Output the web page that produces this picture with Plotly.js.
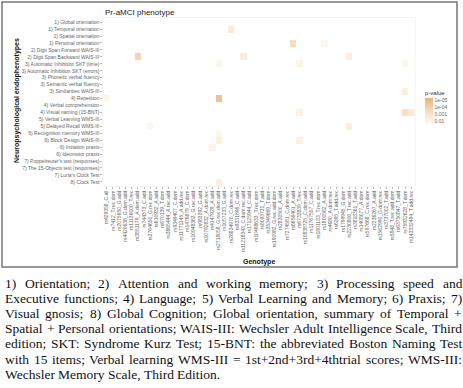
<!DOCTYPE html>
<html>
<head>
<meta charset="utf-8">
<script src="https://cdn.plot.ly/plotly-3.0.1.min.js"></script>
<style>
  body { margin: 0; background: #fff; }
  #plot { width: 463px; height: 388px; }
</style>
</head>
<body>
<div id="plot"></div>
<script>
/* Neuropsychological endophenotypes (rows, top to bottom) */
var phenotypes = [
  "1) Global orientation", "1) Temporal orientation", "1) Spatial orientation",
  "1) Personal orientation", "2) Digit Span Forward WAIS-III", "2) Digit Span Backward WAIS-III",
  "3) Automatic Inhibition SKT (time)", "3) Automatic Inhibition SKT (errors)",
  "3) Phonetic verbal fluency", "3) Semantic verbal fluency", "3) Similarities WAIS-III",
  "4) Repetition", "4) Verbal comprehension", "4) Visual naming (15-BNT)",
  "5) Verbal Learning WMS-III", "5) Delayed Recall WMS-III", "5) Recognition memory WMS-III",
  "6) Block Design WAIS-III", "6) Imitation praxis", "6) Ideomotor praxis",
  "7) Poppelreuter's test (responses)", "7) The 15-Objects test (responses)",
  "7) Luria's Clock Test", "8) Clock Test"
];

/* Genotypes (columns) */
var genotypes = [
  "rs429358_C.all", "rs7412_T.rec.dom", "rs2075650_G.add", "rs4420638_G.dom.add",
  "rs11136000_T.rec", "rs3851179_A.dom.add", "rs744373_C.add", "rs3764650_G.rec.dom",
  "rs610932_A.add", "rs670139_T.dom", "rs3865444_A.rec.add", "rs9349407_C.dom",
  "rs11771145_A.add.rec", "rs1476679_C.dom", "rs10948363_G.rec.add", "rs983392_G.add",
  "rs10792832_A.dom.rec", "rs4147929_A.add", "rs2718058_G.rec.dom.add", "rs1057233_G.add",
  "rs28834970_C.dom.rec", "rs9331896_C.add", "rs11218343_C.dom.rec.add", "rs17125944_C.add",
  "rs10498633_T.rec.dom", "rs8093731_T.add", "rs35349669_T.dom", "rs190982_G.rec.add.dom",
  "rs2830500_A.add", "rs7274581_C.dom.rec", "rs6656401_A.add", "rs6733839_T.rec",
  "rs10838725_C.dom.add", "rs11767557_C.add", "rs1801133_T.rec.dom", "rs1800562_A.add",
  "rs4680_A.dom.rec", "rs6265_T.add.rec", "rs1799945_G.dom", "rs2230806_T.rec.add",
  "rs3818361_T.add", "rs1408077_A.dom", "rs597668_C.rec.dom", "rs2236267_A.add",
  "rs1562990_G.dom.rec", "rs3737002_T.add", "rs5848_T.rec.add.dom", "rs63750847_T.add",
  "rs75932628_T.dom", "rs143332484_T.add.rec"
];

/* Significant associations: row index, column index, p-value */
var sigRow = [5, 1, 3, 5, 6, 11, 6, 11, 13, 15, 16, 17, 18, 23, 17, 3, 5, 10, 13, 13, 6, 15];
var sigCol = [5, 20, 30, 22, 18, 18, 31, 0, 31, 7, 18, 18, 17, 18, 31, 35, 39, 48, 48, 49, 48, 39];
var sigP = [1.5e-4, 3e-3, 4e-4, 4e-3, 0.012, 2e-5, 0.012, 0.015, 0.008, 0.015, 0.015,
            5e-3, 0.01, 5e-3, 6e-3, 0.015, 4e-3, 5e-3, 5e-4, 2e-3, 0.015, 4e-3];

var legendTicks = [0.01, 0.001, 1e-4, 1e-5];
var legendLabels = ["0.01", "0.001", "1e-04", "1e-05"];

var captionLines = [
  "1) Orientation; 2) Attention and working memory; 3) Processing speed and",
  "Executive functions; 4) Language; 5) Verbal Learning and Memory; 6) Praxis; 7)",
  "Visual gnosis; 8) Global Cognition; Global orientation, summary of Temporal +",
  "Spatial + Personal orientations; WAIS-III: Wechsler Adult Intelligence Scale, Third",
  "edition; SKT: Syndrome Kurz Test; 15-BNT: the abbreviated Boston Naming Test",
  "with 15 items; Verbal learning WMS-III = 1st+2nd+3rd+4thtrial scores; WMS-III:",
  "Wechsler Memory Scale, Third Edition."
];

/* plot box in pixels */
var L = 103, R = 415, T = 18, B = 186;
var PW = R - L, PH = B - T;
function px(x) { return (x - L) / PW; }
function py(y) { return (B - y) / PH; }

/* build z matrix (-log10 p), null where not significant */
var z = phenotypes.map(function () { return genotypes.map(function () { return null; }); });
for (var i = 0; i < sigRow.length; i++) {
  z[sigRow[i]][sigCol[i]] = -Math.log10(sigP[i]);
}

var trace = {
  type: "heatmap",
  x: genotypes,
  y: phenotypes,
  z: z,
  zmin: 1.7,
  zmax: 5.4,
  hoverinfo: "skip",
  colorscale: [[0, "#fef8f1"], [0.5, "#f6dbb9"], [1, "#e8b27a"]],
  colorbar: {
    title: { text: "p-value", side: "top", font: { family: "Liberation Sans", size: 6, color: "#333" } },
    x: px(425), xanchor: "left", xpad: 0,
    y: py(105), yanchor: "middle", ypad: 0,
    lenmode: "pixels", len: 36,
    thickness: 8,
    outlinewidth: 0,
    ticks: "",
    tickvals: legendTicks.map(function (p) { return -Math.log10(p); }),
    ticktext: legendLabels,
    tickfont: { family: "Liberation Sans", size: 5, color: "#666" }
  }
};

var annotations = [
  {
    text: "<b>Neuropsychological endophenotypes</b>", textangle: -90,
    xref: "paper", yref: "paper", x: px(17), y: py(101),
    xanchor: "center", yanchor: "middle", showarrow: false,
    font: { family: "Liberation Sans", size: 7, color: "#111" }
  },
  {
    text: "<b>Genotype</b>",
    xref: "paper", yref: "paper", x: px(259), y: py(262),
    xanchor: "center", yanchor: "middle", showarrow: false,
    font: { family: "Liberation Sans", size: 7, color: "#111" }
  }
];

/* justified caption, one annotation per word */
var capFont = "Liberation Serif";
var capSize = 13.5;
var ctx = document.createElement("canvas").getContext("2d");
ctx.font = capSize + "px '" + capFont + "'";
var left = 3, right = 460;
captionLines.forEach(function (line, k) {
  var yy = 283 + 15.2 * k;
  var words = line.split(" ");
  var last = k === captionLines.length - 1;
  var widths = words.map(function (w) { return ctx.measureText(w).width; });
  var total = widths.reduce(function (a, b) { return a + b; }, 0);
  var gap = last ? ctx.measureText(" ").width : (right - left - total) / (words.length - 1);
  var xx = left;
  words.forEach(function (w, j) {
    annotations.push({
      text: w, xref: "paper", yref: "paper", x: px(xx), y: py(yy),
      xanchor: "left", yanchor: "middle", showarrow: false,
      font: { family: capFont, size: capSize, color: "#111" }
    });
    xx += widths[j] + gap;
  });
});

var layout = {
  width: 463,
  height: 388,
  margin: { l: L, r: 463 - R, t: T, b: 388 - B, pad: 0 },
  paper_bgcolor: "#ffffff",
  plot_bgcolor: "#ffffff",
  title: {
    text: "Pr-aMCI phenotype",
    xref: "paper", x: px(105), xanchor: "left",
    yref: "container", y: 1 - 12 / 388, yanchor: "middle",
    font: { family: "Liberation Sans", size: 8, color: "#222" }
  },
  xaxis: {
    type: "category",
    categoryarray: genotypes,
    range: [-0.6, genotypes.length - 0.4],
    tickangle: -90,
    tickfont: { family: "Liberation Sans", size: 5, color: "#666" },
    ticks: "outside", ticklen: 2, tickcolor: "#777", tickwidth: 0.5,
    showgrid: false, zeroline: false,
    showline: true, mirror: true, linecolor: "#eeeeee", linewidth: 0.6,
    automargin: false
  },
  yaxis: {
    type: "category",
    categoryarray: phenotypes,
    range: [phenotypes.length - 0.4, -0.6],
    tickfont: { family: "Liberation Sans", size: 5, color: "#666" },
    ticks: "outside", ticklen: 2, tickcolor: "#777", tickwidth: 0.5,
    showgrid: false, zeroline: false,
    showline: true, mirror: true, linecolor: "#eeeeee", linewidth: 0.6,
    automargin: false
  },
  shapes: [
    {
      type: "rect", xref: "paper", yref: "paper",
      x0: px(2), x1: px(457), y0: py(2), y1: py(267),
      line: { color: "#777", width: 1.5 }
    }
  ],
  annotations: annotations
};

Plotly.newPlot("plot", [trace], layout, { displayModeBar: false, staticPlot: true });
</script>
</body>
</html>
